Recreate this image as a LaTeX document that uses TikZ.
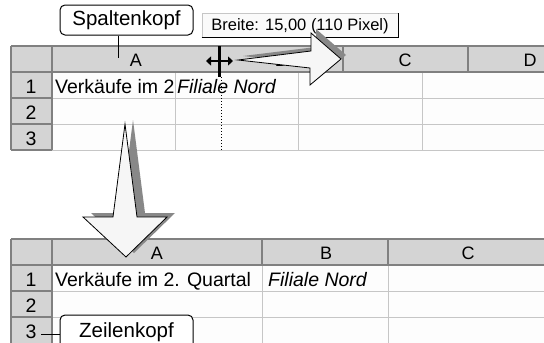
\documentclass[tikz,border=0pt]{standalone}
\usepackage{fontspec}
\setmainfont{Liberation Sans}
\usetikzlibrary{arrows.meta}
\definecolor{hdrgray}{RGB}{212,212,212}
\definecolor{edgegray}{RGB}{128,128,128}
\definecolor{gridgray}{RGB}{198,198,198}
\definecolor{shadowgray}{RGB}{136,136,136}
\definecolor{arrowfill}{RGB}{246,246,246}
\definecolor{tipfill}{RGB}{250,250,250}
\definecolor{cellfill}{RGB}{253,253,253}
\begin{document}
\begin{tikzpicture}[x=1pt,y=-1pt,
  celltext/.style={font=\fontsize{19.5}{20}\selectfont, inner sep=0pt, anchor=base west},
  coltext/.style={font=\fontsize{18}{18}\selectfont, inner sep=0pt, anchor=base},
  rownum/.style={font=\fontsize{19.5}{20}\selectfont, inner sep=0pt, anchor=base},
  hdrline/.style={draw=edgegray, line width=1.2pt},
  gridline/.style={draw=gridgray, line width=1pt},
  callout/.style={draw=black, line width=1pt, rounded corners=5pt, fill=white,
    minimum width=133pt, inner sep=0pt, font=\fontsize{20.5}{21}\selectfont},
  callouttext/.style={inner sep=0pt, anchor=base, font=\fontsize{20.5}{21}\selectfont},
  calloutframe/.style={draw=black, line width=1pt, rounded corners=5pt, fill=white},
  tooltip/.style={draw=gridgray, line width=0.8pt, fill=tipfill, minimum width=196pt,
    minimum height=24pt, inner sep=0pt, text depth=0pt, font=\fontsize{16.5}{17}\selectfont},
  blockarrow/.style={draw=black, line width=0.8pt, fill=arrowfill, line join=miter},
  arrowshadow/.style={fill=shadowgray},
]
\useasboundingbox (0,0) rectangle (544,343);
\clip (0,0) rectangle (544,343);
\fill[white] (0,0) rectangle (544,343);

% ---------- upper sheet ----------
\fill[cellfill] (52,72) rectangle (544,150);
\fill[hdrgray] (11,46) rectangle (544,72);
\fill[hdrgray] (11,72) rectangle (52,150);
\foreach \y in {98,124,150} \draw[gridline] (52,\y) -- (544,\y);
\foreach \x in {175,298,422} \draw[gridline] (\x,72) -- (\x,150);
\draw[hdrline] (11,46) -- (544,46);
\draw[hdrline] (11,72) -- (544,72);
\foreach \x in {52,220,343,468} \draw[hdrline] (\x,46) -- (\x,72);
\draw[hdrline] (11,46) -- (11,150);
\draw[hdrline] (52,46) -- (52,150);
\foreach \y in {98,124,150} \draw[hdrline] (11,\y) -- (52,\y);

\node[coltext] (ua) at (136,66) {A};
\node[coltext] (ub) at (281,66) {B};
\node[coltext] (uc) at (405,66) {C};
\node[coltext] (ud) at (530,66) {D};
\node[rownum] (u1) at (31,93) {1};
\node[rownum] (u2) at (31,119) {2};
\node[rownum] (u3) at (31,145) {3};
\begin{scope}
  \clip (52,72) rectangle (174,98);
  \node[celltext] (ua1) at (55,93) {Verkäufe im 2};
\end{scope}
\node[celltext, font=\fontsize{19.5}{20}\selectfont\itshape] (ub1) at (177,93) {Filiale Nord};

% resize guide and cursor
\coordinate (guide-top) at (221,77);
\coordinate (guide-bot) at (221,150);
\draw[black, line width=1pt, dash pattern=on 1.2pt off 1.8pt] (guide-top) -- (guide-bot);
\coordinate (cur-n) at (219,46);
\coordinate (cur-s) at (219,77);
\coordinate (cur-w) at (206,61);
\coordinate (cur-e) at (233,61);
\draw[black, line width=3pt] (cur-n) -- (cur-s);
\draw[black, line width=2pt, {Triangle[width=9pt,length=5pt]}-{Triangle[width=9pt,length=5pt]}] (cur-w) -- (cur-e);

% ---------- lower sheet ----------
\fill[cellfill] (52,265) rectangle (544,343);
\fill[hdrgray] (11,239) rectangle (544,265);
\fill[hdrgray] (11,265) rectangle (52,343);
\foreach \y in {291,317} \draw[gridline] (52,\y) -- (544,\y);
\foreach \x in {262,388} \draw[gridline] (\x,265) -- (\x,343);
\draw[hdrline] (11,239) -- (544,239);
\draw[hdrline] (11,265) -- (544,265);
\foreach \x in {52,262,388} \draw[hdrline] (\x,239) -- (\x,265);
\draw[hdrline] (11,239) -- (11,343);
\draw[hdrline] (52,239) -- (52,343);
\foreach \y in {291,317} \draw[hdrline] (11,\y) -- (52,\y);

\node[coltext] (la) at (157,259) {A};
\node[coltext] (lb) at (326,259) {B};
\node[coltext] (lc) at (468,259) {C};
\node[rownum] (l1) at (31,286) {1};
\node[rownum] (l2) at (31,312) {2};
\node[rownum] (l3) at (31,338) {3};
\node[celltext] (la1) at (55,286) {Verkäufe im 2. Quartal};
\node[celltext, font=\fontsize{19.5}{20}\selectfont\itshape] (lb1) at (268,286) {Filiale Nord};

% ---------- callouts ----------
\node[callout, minimum height=30pt] (spalten) at (126.5,20) {Spaltenkopf};
\coordinate (sk-end) at (118,58);
\draw[black, line width=1pt] (sk-end |- spalten.south) -- (sk-end);

% row-header callout, running off the lower edge
\draw[calloutframe] (60,346) -- (60,315) -- (193,315) -- (193,346);
\node[callouttext] (zeilen) at (126.5,337) {Zeilenkopf};
\coordinate (zk-end) at (41,334);
\coordinate (zk-box) at (60,334);
\draw[black, line width=1pt] (zk-end) -- (zk-box);

% ---------- width tooltip ----------
\node[tooltip] (tip) at (300,25) {Breite: 15,00 (110 Pixel)};
\draw[black, line width=1pt] (tip.south west) -- (tip.south east) -- (tip.north east);

% ---------- block arrows ----------
\fill[arrowshadow, shift={(5,-4)}]
  (238,60) -- (311,51) -- (311,33) -- (341,59) -- (310,85) -- (310,68) -- cycle;
\draw[blockarrow]
  (238,60) -- (311,51) -- (311,33) -- (341,59) -- (310,85) -- (310,68) -- cycle;

\fill[arrowshadow, shift={(8,-4)}]
  (125,124) -- (113,217) -- (83,217) -- (126,257) -- (167,217) -- (137,217) -- cycle;
\draw[blockarrow]
  (125,124) -- (113,217) -- (83,217) -- (126,257) -- (167,217) -- (137,217) -- cycle;
\end{tikzpicture}
\end{document}
